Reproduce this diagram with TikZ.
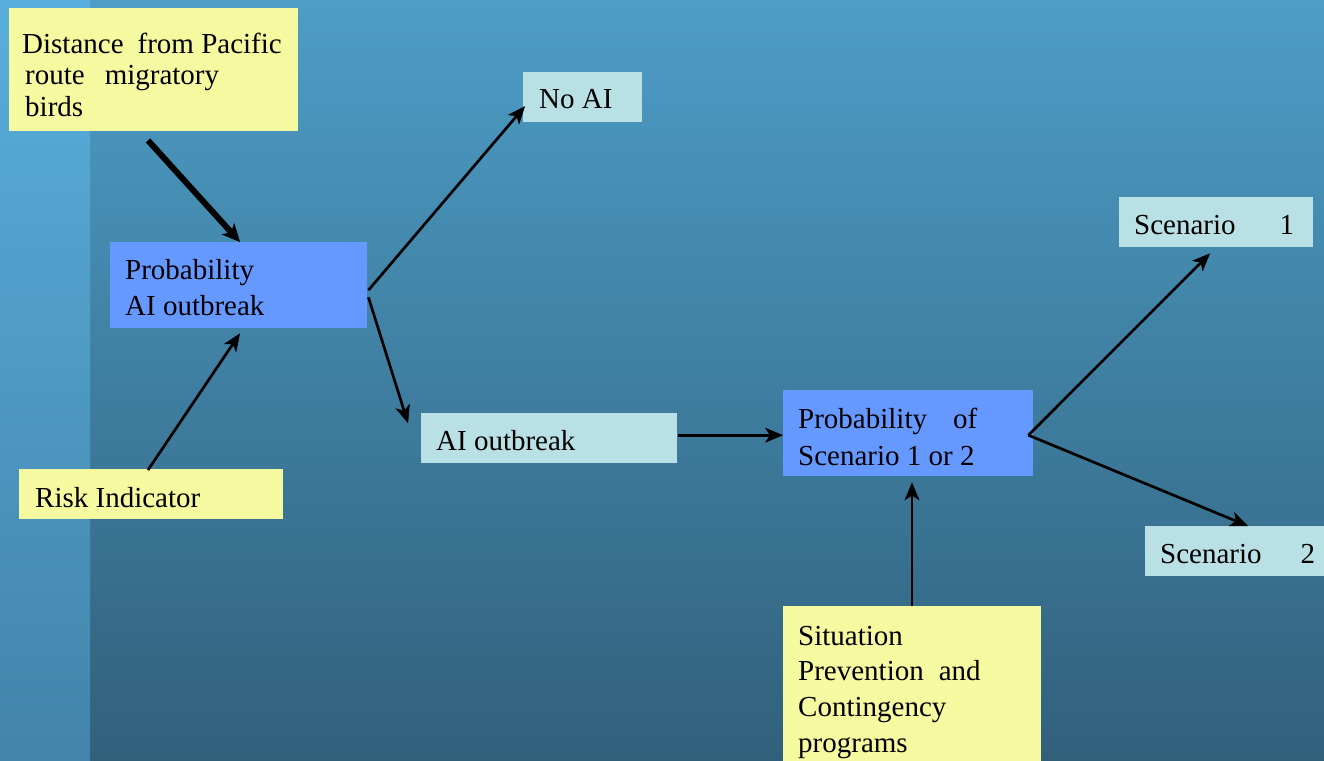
\documentclass[tikz,border=0pt]{standalone}
\usepackage{fontspec}
\setmainfont{Liberation Serif}
\usetikzlibrary{arrows.meta,calc}
\definecolor{ylw}{RGB}{245,249,160}
\definecolor{blu}{RGB}{102,153,255}
\definecolor{cyn}{RGB}{185,224,228}
\definecolor{bgtop}{RGB}{77,157,199}
\definecolor{bgbot}{RGB}{49,96,123}
\definecolor{striptop}{RGB}{88,174,220}
\definecolor{stripbot}{RGB}{67,132,170}
% #1 height, #2 width, #3 first baseline, #4 baselineskip, #5 left pad, #6 text
\newcommand{\boxtext}[6]{\parbox[c][#1pt][t]{#2pt}{\raggedright\leftskip=#5pt\setlength{\baselineskip}{#4pt}\rule{0pt}{#3pt}#6\par}}
\tikzset{
  box/.style={inner sep=0pt, anchor=north west, font=\fontsize{29}{32}\selectfont},
  ybox/.style={box, fill=ylw},
  bbox/.style={box, fill=blu},
  cbox/.style={box, fill=cyn},
  arr/.style={line width=2.7pt, -{Stealth[length=18pt,width=15pt,inset=5pt,line width=0.6pt]}},
  thickarr/.style={line width=6pt, -{Stealth[length=18pt,width=17pt,inset=5pt,line width=0.6pt]}}
}
\begin{document}
\begin{tikzpicture}[x=1pt,y=-1pt]
\useasboundingbox (0,0) rectangle (1324,760);
\clip (0,0) rectangle (1324,760);
\shade[top color=bgtop, bottom color=bgbot] (0,0) rectangle (1324,760);
\shade[top color=striptop, bottom color=stripbot] (0,0) rectangle (90,760);

\node[ybox] (dist) at (9,8) {\boxtext{123}{289}{45}{31.5}{13}{Distance\hspace{14pt}from Pacific\\\hspace{3pt}route\hspace{20pt}migratory\\\hspace{3pt}birds}};
\node[bbox] (pAI) at (110,242) {\boxtext{86}{257}{37}{36}{15}{Probability\\AI outbreak}};
\node[cbox] (noAI) at (523,72) {\boxtext{50}{119}{36}{32}{16}{No AI}};
\node[cbox] (aio) at (421,413) {\boxtext{50}{256}{37}{32}{15}{AI outbreak}};
\node[bbox] (pSc) at (783,390) {\boxtext{86}{250}{38}{37}{15}{Probability\hspace{26pt}of\\Scenario 1 or 2}};
\node[cbox] (sc1) at (1119,197) {\boxtext{50}{194}{37}{32}{15}{Scenario\hspace{44pt}1}};
\node[cbox] (sc2) at (1145,526) {\boxtext{50}{200}{37}{32}{15}{Scenario\hspace{39pt}2}};
\node[ybox] (sit) at (783,606) {\boxtext{200}{258}{39}{35.7}{15}{Situation\\Prevention\hspace{15pt}and\\Contingency\\programs}};
\node[ybox] (risk) at (19,469) {\boxtext{50}{264}{38}{32}{16}{Risk Indicator}};

\draw[thickarr] ($(dist.south west)+(139,9)$) -- ($(pAI.north west)+(130,0)$);
\draw[arr] ($(risk.north west)+(129,1)$) -- ($(pAI.south west)+(130,5)$);
\draw[arr] ($(pAI.east)+(1,5)$) -- ($(noAI.west)+(2,9)$);
\draw[arr] ($(pAI.east)+(1,12)$) -- ($(aio.west)+(-13,-15)$);
\draw[arr] ($(aio.east)+(1,-3)$) -- ($(pSc.west)+(0,2)$);
\draw[arr] ($(pSc.east)+(-5,2)$) -- ($(sc1.south west)+(91,6)$);
\draw[arr] ($(pSc.east)+(-5,2)$) -- ($(sc2.north west)+(103,0)$);
\draw[arr] ($(sit.north west)+(129,0)$) -- ($(pSc.south west)+(129,6)$);
\end{tikzpicture}
\end{document}
